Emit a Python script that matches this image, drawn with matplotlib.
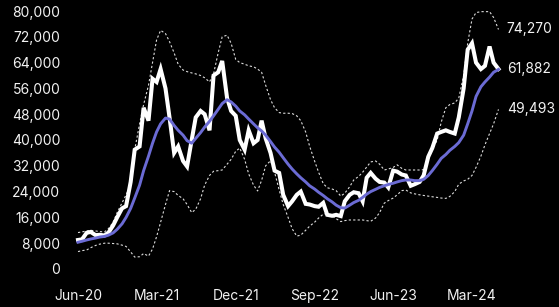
import numpy as np
import pandas as pd
import matplotlib
matplotlib.use('Agg')
import matplotlib.pyplot as plt
import matplotlib.dates as mdates
from matplotlib.ticker import FuncFormatter

# valores, en miles, cada medio mes desde jun-2020
precio = [9.0, 9.2, 11.2, 11.5, 10.5, 10.6, 10.4, 11.3, 13.5, 16.0,
          18.8, 19.5, 27.0, 37.0, 38.0, 50.0, 46.0, 59.0, 58.0, 62.0,
          56.0, 47.0, 36.0, 38.0, 33.5, 31.8, 40.0, 47.0, 49.0, 48.0,
          43.0, 60.0, 61.0, 64.5, 53.0, 49.0, 47.5, 40.0, 37.0, 43.0,
          39.0, 40.0, 46.0, 40.5, 36.0, 30.5, 29.8, 23.0, 19.5, 21.0,
          23.0, 24.0, 20.2, 20.0, 19.5, 19.3, 20.5, 16.8, 16.5, 16.8,
          16.4, 21.0, 23.0, 23.8, 23.5, 21.0, 28.3, 29.8, 28.0, 27.0,
          26.8, 25.3, 30.5, 30.2, 29.3, 29.0, 25.8, 26.3, 27.0, 29.0,
          34.8, 37.5, 42.0, 42.5, 43.0, 42.5, 42.0, 47.0, 56.0, 68.0,
          70.0, 64.0, 62.0, 63.0, 69.0, 64.0, 62.0]

media = [8.3, 8.6, 9.0, 9.3, 9.6, 9.9, 10.1, 10.5, 11.2, 12.3,
         14.0, 16.0, 18.8, 22.0, 26.0, 30.5, 35.0, 39.0, 42.5, 45.0,
         46.8, 46.5, 44.5, 43.0, 41.5, 39.8, 39.0, 40.5, 42.3, 44.0,
         45.8, 47.5, 49.5, 51.3, 52.5, 51.8, 50.5, 49.0, 47.8, 46.5,
         45.0, 43.8, 42.8, 41.5, 39.5, 37.8, 36.2, 34.5, 32.5, 31.0,
         29.5, 28.3, 27.0, 25.8, 24.8, 23.8, 22.8, 21.8, 20.8, 19.8,
         19.0, 18.9, 19.8, 20.6, 21.3, 22.2, 23.2, 24.0, 24.7, 25.3,
         25.8, 26.2, 26.6, 27.0, 27.4, 27.6, 27.6, 27.4, 27.4, 27.8,
         29.0, 30.5, 32.5, 34.3, 35.5, 36.8, 38.0, 39.2, 41.5, 45.0,
         49.0, 53.5, 56.5, 58.0, 59.5, 61.0, 61.882]

banda_sup = [11.3, 11.5, 11.8, 12.0, 11.8, 11.6, 11.5, 12.5, 14.5, 17.5,
             20.5, 23.0, 26.0, 37.0, 45.0, 51.0, 57.0, 64.0, 71.0, 74.0,
             73.0, 70.5, 67.0, 63.5, 61.7, 61.2, 60.8, 60.5, 60.0, 59.3,
             58.0, 60.5, 67.0, 72.0, 72.5, 70.0, 65.0, 64.0, 63.5, 63.0,
             62.7, 62.0, 61.0, 57.0, 52.5, 50.0, 48.5, 48.3, 48.3, 48.2,
             47.5, 46.0, 42.5, 38.0, 33.5, 30.0, 26.5, 25.2, 24.8, 24.3,
             22.6, 23.5, 25.5, 27.6, 28.7, 30.0, 31.6, 33.2, 33.5, 32.5,
             30.7, 31.0, 31.5, 32.3, 31.2, 30.7, 30.7, 30.7, 30.7, 30.8,
             34.0, 37.0, 40.0, 45.5, 50.0, 51.0, 51.5, 53.0, 60.0, 70.0,
             77.5, 79.5, 79.8, 79.8, 79.8, 78.0, 74.270]

banda_inf = [5.4, 5.7, 5.9, 6.6, 7.3, 7.7, 8.0, 8.0, 7.9, 7.8,
             7.4, 7.0, 5.3, 3.7, 3.8, 4.8, 4.0, 6.2, 10.0, 14.5,
             20.0, 24.3, 24.0, 22.8, 21.8, 20.0, 17.5, 18.5, 21.8, 26.0,
             29.0, 30.3, 30.5, 30.7, 32.5, 34.0, 36.5, 37.5, 34.0, 29.5,
             26.0, 24.2, 27.5, 32.0, 33.6, 30.0, 24.5, 20.0, 16.0, 12.5,
             10.2, 10.5, 12.0, 13.3, 14.5, 15.8, 17.0, 17.2, 16.5, 15.6,
             14.7, 15.0, 15.2, 15.2, 15.2, 15.2, 15.0, 14.8, 15.8, 17.5,
             20.4, 21.2, 22.0, 23.0, 24.3, 24.5, 23.6, 23.3, 23.0, 22.8,
             22.6, 22.4, 22.2, 22.0, 21.9, 22.5, 24.0, 26.3, 27.3, 27.8,
             29.0, 31.5, 35.0, 38.5, 42.0, 45.0, 49.493]

fechas = pd.date_range('2020-06-01', periods=len(precio), freq='SMS')
etiquetas_x = ['Jun-20', 'Mar-21', 'Dec-21', 'Sep-22', 'Jun-23', 'Mar-24']
fechas_x = pd.to_datetime(['2020-06-01', '2021-03-01', '2021-12-01',
                           '2022-09-01', '2023-06-01', '2024-03-01'])
yticks = np.arange(0, 80001, 8000)

precio = np.array(precio) * 1000
media = np.array(media) * 1000
banda_sup = np.array(banda_sup) * 1000
banda_inf = np.array(banda_inf) * 1000

plt.rcParams['font.family'] = ['Inter', 'DejaVu Sans']
texto = '#f2f2f2'

W, H = 559, 307
fig = plt.figure(figsize=(W / 100, H / 100), dpi=100, facecolor='black')
# caja de ejes en pixeles: x 70..510, y 4.55..275.45
ax = fig.add_axes([70 / W, (H - 275.45) / H, 440 / W, (275.45 - 4.55) / H])
ax.set_facecolor('black')

d0 = mdates.date2num(pd.Timestamp('2020-06-01'))
d1 = mdates.date2num(pd.Timestamp('2024-03-01'))
dias_px = (d1 - d0) / (472 - 78)
ax.set_xlim(d0 - 8 * dias_px, d1 + 38 * dias_px)
ax.set_ylim(-2000, 82000)

ax.plot(fechas, banda_sup, color='#dcdcdc', lw=0.8, ls=(0, (2, 2)))
ax.plot(fechas, banda_inf, color='#dcdcdc', lw=0.8, ls=(0, (2, 2)))
ax.plot(fechas, precio, color='white', lw=2.9, solid_joinstyle='miter')
ax.plot(fechas, media, color='#6b6bd4', lw=2.1)

ax.set_yticks(yticks)
ax.yaxis.set_major_formatter(FuncFormatter(lambda v, p: f'{int(v):,}'))
ax.set_xticks(fechas_x)
ax.set_xticklabels(etiquetas_x)
ax.tick_params(axis='both', length=0, colors=texto, labelsize=10)
ax.tick_params(axis='y', pad=7)
ax.tick_params(axis='x', pad=10)
for s in ax.spines.values():
    s.set_visible(False)

# valores finales a la derecha
for serie in (banda_sup, media, banda_inf):
    ax.annotate(f'{serie[-1]:,.0f}', xy=(fechas[-1], serie[-1]),
                xytext=(6, 0), textcoords='offset points',
                color=texto, fontsize=10, va='center', ha='left')

fig.savefig('out.png', dpi=100, facecolor='black')
